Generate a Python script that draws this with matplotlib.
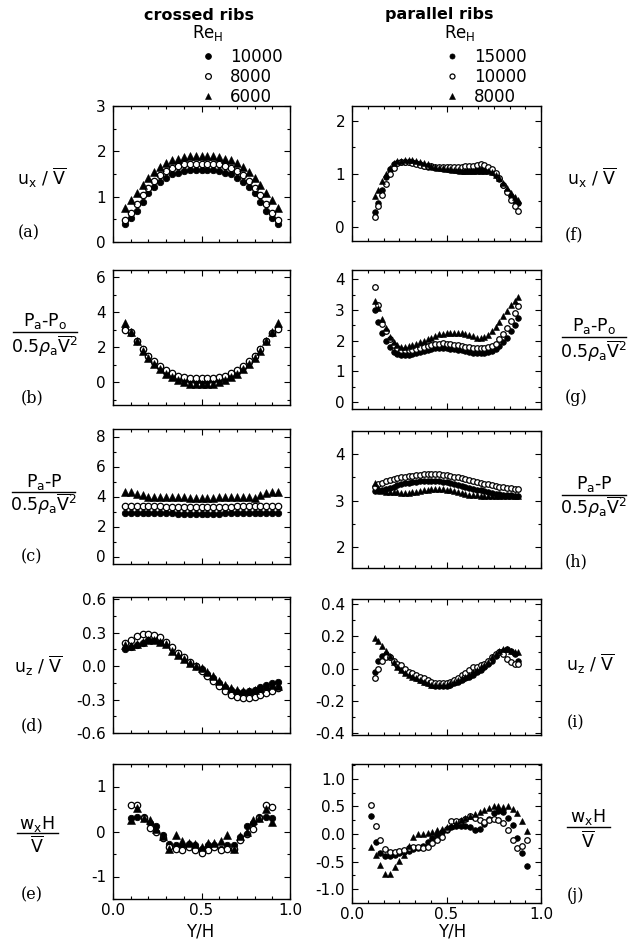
import numpy as np
import matplotlib
matplotlib.use('Agg')
import matplotlib.pyplot as plt
from matplotlib.ticker import MultipleLocator, FixedLocator, FormatStrFormatter

plt.rcParams['font.family'] = ['DejaVu Sans']
plt.rcParams['mathtext.fontset'] = 'dejavusans'
plt.rcParams['axes.unicode_minus'] = False

W, H = 628, 943

# ---------------- crossed ribs (left column) ----------------
re_cross = ['10000', '8000', '6000']
x_cross = [0.067, 0.1, 0.133, 0.167, 0.2, 0.233, 0.267, 0.3, 0.333, 0.367, 0.4, 0.433, 0.467, 0.5,
           0.533, 0.567, 0.6, 0.633, 0.667, 0.7, 0.733, 0.767, 0.8, 0.833, 0.867, 0.9, 0.933]
x_cross_e = [0.1, 0.136, 0.173, 0.209, 0.245, 0.282, 0.318, 0.355, 0.391, 0.427, 0.464, 0.5,
             0.536, 0.573, 0.609, 0.645, 0.682, 0.718, 0.755, 0.791, 0.827, 0.864, 0.9]

a_10000 = [0.40, 0.53, 0.69, 0.88, 1.07, 1.22, 1.33, 1.42, 1.49, 1.53, 1.56, 1.58, 1.58, 1.58,
           1.58, 1.58, 1.56, 1.53, 1.49, 1.42, 1.33, 1.22, 1.07, 0.88, 0.69, 0.53, 0.40]
a_8000 = [0.48, 0.63, 0.83, 1.03, 1.20, 1.35, 1.47, 1.57, 1.64, 1.68, 1.71, 1.72, 1.73, 1.73,
          1.73, 1.72, 1.71, 1.68, 1.64, 1.57, 1.47, 1.35, 1.20, 1.03, 0.83, 0.63, 0.48]
a_6000 = [0.75, 0.92, 1.07, 1.25, 1.42, 1.55, 1.66, 1.74, 1.80, 1.84, 1.87, 1.89, 1.90, 1.90,
          1.90, 1.89, 1.87, 1.84, 1.80, 1.74, 1.66, 1.55, 1.42, 1.25, 1.07, 0.92, 0.75]

b_10000 = [3.05, 2.80, 2.35, 1.90, 1.50, 1.15, 0.85, 0.60, 0.40, 0.25, 0.15, 0.10, 0.08, 0.08,
           0.08, 0.10, 0.15, 0.25, 0.40, 0.60, 0.85, 1.15, 1.50, 1.90, 2.35, 2.80, 3.10]
b_8000 = [3.00, 2.85, 2.35, 1.90, 1.50, 1.20, 0.90, 0.68, 0.50, 0.38, 0.30, 0.25, 0.22, 0.22,
          0.22, 0.25, 0.30, 0.38, 0.50, 0.68, 0.90, 1.20, 1.50, 1.90, 2.35, 2.80, 3.05]
b_6000 = [3.35, 2.85, 2.35, 1.80, 1.40, 1.05, 0.75, 0.48, 0.28, 0.10, 0.00, -0.08, -0.10, -0.10,
          -0.10, -0.08, 0.00, 0.10, 0.28, 0.48, 0.75, 1.05, 1.40, 1.80, 2.35, 2.85, 3.35]

c_10000 = [2.92, 2.90, 2.90, 2.88, 2.88, 2.88, 2.87, 2.87, 2.87, 2.86, 2.86, 2.86, 2.86, 2.86,
           2.86, 2.86, 2.86, 2.87, 2.87, 2.87, 2.88, 2.88, 2.88, 2.90, 2.90, 2.90, 2.92]
c_8000 = [3.36, 3.35, 3.35, 3.34, 3.34, 3.34, 3.34, 3.33, 3.33, 3.33, 3.33, 3.33, 3.33, 3.33,
          3.33, 3.33, 3.33, 3.33, 3.33, 3.34, 3.34, 3.34, 3.34, 3.35, 3.35, 3.35, 3.36]
c_6000 = [4.30, 4.30, 4.20, 4.08, 3.97, 3.97, 3.98, 3.96, 3.95, 3.94, 3.94, 3.93, 3.93, 3.93,
          3.93, 3.93, 3.94, 3.96, 3.98, 4.00, 3.97, 3.94, 3.92, 4.08, 4.22, 4.30, 4.30]

d_10000 = [0.15, 0.17, 0.19, 0.21, 0.23, 0.23, 0.22, 0.20, 0.16, 0.11, 0.07, 0.03, 0.00, -0.03,
           -0.07, -0.11, -0.15, -0.19, -0.21, -0.23, -0.23, -0.22, -0.21, -0.19, -0.17, -0.15, -0.14]
d_8000 = [0.21, 0.23, 0.27, 0.29, 0.29, 0.28, 0.26, 0.22, 0.17, 0.12, 0.08, 0.04, 0.00, -0.04,
          -0.09, -0.13, -0.18, -0.22, -0.26, -0.28, -0.29, -0.29, -0.28, -0.26, -0.24, -0.22, -0.20]
d_6000 = [0.19, 0.18, 0.20, 0.22, 0.23, 0.23, 0.22, 0.20, 0.14, 0.10, 0.06, 0.03, 0.00, -0.02,
          -0.05, -0.09, -0.13, -0.17, -0.20, -0.21, -0.22, -0.22, -0.21, -0.20, -0.18, -0.17, -0.18]

e_10000 = [0.31, 0.33, 0.33, 0.20, 0.13, -0.08, -0.28, -0.30, -0.32, -0.28, -0.30, -0.38,
           -0.30, -0.30, -0.38, -0.30, -0.30, -0.12, 0.12, 0.20, 0.32, 0.32, 0.30]
e_8000 = [0.58, 0.60, 0.30, 0.07, 0.00, -0.15, -0.35, -0.38, -0.40, -0.35, -0.40, -0.48,
          -0.40, -0.35, -0.40, -0.38, -0.38, -0.18, -0.05, 0.05, 0.30, 0.60, 0.55]
e_6000 = [0.25, 0.53, 0.30, 0.25, 0.05, -0.10, -0.38, -0.07, -0.20, -0.25, -0.27, -0.35,
          -0.25, -0.25, -0.20, -0.07, -0.38, -0.10, 0.00, 0.25, 0.30, 0.50, 0.22]

# ---------------- parallel ribs (right column) ----------------
re_par = ['15000', '10000', '8000']
x_par = [0.12, 0.14, 0.16, 0.18, 0.20, 0.22, 0.24, 0.26, 0.28, 0.30, 0.32, 0.34, 0.36, 0.38,
         0.40, 0.42, 0.44, 0.46, 0.48, 0.50, 0.52, 0.54, 0.56, 0.58, 0.60, 0.62, 0.64, 0.66,
         0.68, 0.70, 0.72, 0.74, 0.76, 0.78, 0.80, 0.82, 0.84, 0.86, 0.88]
x_par_j = [0.10, 0.125, 0.15, 0.175, 0.20, 0.225, 0.25, 0.275, 0.30, 0.325, 0.35, 0.375,
           0.40, 0.425, 0.45, 0.475, 0.50, 0.525, 0.55, 0.575, 0.60, 0.625, 0.65, 0.675,
           0.70, 0.725, 0.75, 0.775, 0.80, 0.825, 0.85, 0.875, 0.90, 0.925]

f_15000 = [0.28, 0.45, 0.70, 0.95, 1.10, 1.18, 1.20, 1.22, 1.23, 1.23, 1.22, 1.20, 1.18, 1.16,
           1.14, 1.13, 1.12, 1.11, 1.10, 1.09, 1.08, 1.07, 1.06, 1.06, 1.06, 1.06, 1.06, 1.07,
           1.08, 1.08, 1.07, 1.04, 0.98, 0.90, 0.80, 0.68, 0.58, 0.50, 0.45]
f_10000 = [0.20, 0.40, 0.60, 0.82, 1.00, 1.12, 1.20, 1.22, 1.22, 1.22, 1.20, 1.18, 1.17, 1.16,
           1.15, 1.15, 1.14, 1.14, 1.14, 1.14, 1.14, 1.14, 1.14, 1.14, 1.15, 1.15, 1.16, 1.17,
           1.18, 1.17, 1.14, 1.10, 1.02, 0.92, 0.80, 0.66, 0.52, 0.40, 0.30]
f_8000 = [0.58, 0.70, 0.86, 1.00, 1.12, 1.20, 1.24, 1.25, 1.26, 1.27, 1.27, 1.25, 1.22, 1.20,
          1.18, 1.16, 1.14, 1.12, 1.11, 1.10, 1.09, 1.08, 1.07, 1.06, 1.05, 1.05, 1.05, 1.05,
          1.06, 1.06, 1.05, 1.03, 0.98, 0.92, 0.84, 0.74, 0.65, 0.57, 0.52]

g_15000 = [3.00, 2.60, 2.25, 2.00, 1.78, 1.62, 1.55, 1.52, 1.52, 1.54, 1.56, 1.58, 1.62, 1.66,
           1.70, 1.73, 1.75, 1.76, 1.76, 1.75, 1.74, 1.72, 1.70, 1.68, 1.65, 1.62, 1.60, 1.58,
           1.58, 1.60, 1.62, 1.66, 1.72, 1.82, 1.95, 2.10, 2.30, 2.50, 2.72]
g_10000 = [3.75, 3.15, 2.55, 2.30, 2.05, 1.85, 1.75, 1.70, 1.68, 1.68, 1.70, 1.72, 1.75, 1.78,
           1.82, 1.86, 1.88, 1.90, 1.91, 1.90, 1.88, 1.86, 1.84, 1.82, 1.80, 1.78, 1.76, 1.75,
           1.75, 1.76, 1.78, 1.82, 1.90, 2.05, 2.20, 2.40, 2.65, 2.90, 3.12]
g_8000 = [3.30, 3.05, 2.70, 2.40, 2.12, 1.95, 1.85, 1.80, 1.80, 1.82, 1.86, 1.90, 1.95, 2.00,
          2.05, 2.10, 2.15, 2.20, 2.22, 2.24, 2.25, 2.26, 2.26, 2.25, 2.22, 2.18, 2.14, 2.10,
          2.10, 2.12, 2.18, 2.30, 2.45, 2.62, 2.80, 2.98, 3.15, 3.30, 3.42]

h_15000 = [3.20, 3.20, 3.22, 3.25, 3.28, 3.30, 3.33, 3.35, 3.37, 3.39, 3.40, 3.41, 3.42, 3.43,
           3.43, 3.43, 3.42, 3.42, 3.41, 3.40, 3.38, 3.36, 3.34, 3.32, 3.30, 3.28, 3.26, 3.24,
           3.22, 3.20, 3.18, 3.16, 3.15, 3.14, 3.13, 3.12, 3.12, 3.11, 3.10]
h_10000 = [3.30, 3.35, 3.38, 3.42, 3.45, 3.47, 3.49, 3.51, 3.52, 3.53, 3.54, 3.55, 3.56, 3.57,
           3.57, 3.57, 3.57, 3.57, 3.56, 3.55, 3.54, 3.52, 3.50, 3.48, 3.46, 3.44, 3.42, 3.40,
           3.38, 3.36, 3.35, 3.33, 3.31, 3.30, 3.29, 3.28, 3.27, 3.26, 3.25]
h_8000 = [3.38, 3.28, 3.20, 3.18, 3.18, 3.18, 3.18, 3.17, 3.17, 3.17, 3.18, 3.19, 3.20, 3.22,
          3.24, 3.25, 3.26, 3.26, 3.25, 3.24, 3.22, 3.20, 3.18, 3.16, 3.14, 3.13, 3.12, 3.12,
          3.11, 3.10, 3.10, 3.10, 3.10, 3.10, 3.10, 3.10, 3.10, 3.10, 3.10]

i_15000 = [-0.02, 0.05, 0.08, 0.09, 0.07, 0.04, 0.02, 0.00, -0.02, -0.03, -0.04, -0.06, -0.07,
           -0.08, -0.09, -0.10, -0.11, -0.11, -0.11, -0.11, -0.10, -0.09, -0.08, -0.07, -0.06,
           -0.05, -0.04, -0.02, -0.01, 0.01, 0.03, 0.05, 0.08, 0.10, 0.11, 0.12, 0.11, 0.09, 0.05]
i_10000 = [-0.06, 0.00, 0.05, 0.07, 0.07, 0.05, 0.03, 0.02, 0.00, -0.02, -0.03, -0.04, -0.05,
           -0.06, -0.07, -0.08, -0.09, -0.09, -0.09, -0.09, -0.08, -0.07, -0.06, -0.04, -0.03,
           -0.01, 0.01, 0.01, 0.02, 0.03, 0.05, 0.07, 0.09, 0.10, 0.09, 0.06, 0.04, 0.03, 0.03]
i_8000 = [0.19, 0.17, 0.14, 0.11, 0.08, 0.04, 0.01, -0.01, -0.03, -0.04, -0.05, -0.06, -0.07,
          -0.08, -0.09, -0.10, -0.10, -0.10, -0.10, -0.10, -0.09, -0.08, -0.07, -0.06, -0.05,
          -0.04, -0.02, -0.01, 0.01, 0.02, 0.04, 0.07, 0.09, 0.11, 0.12, 0.12, 0.11, 0.10, 0.10]

j_15000 = [0.33, -0.14, -0.35, -0.40, -0.40, -0.38, -0.35, -0.32, -0.30, -0.28, -0.26, -0.22,
           -0.15, -0.08, -0.02, 0.04, 0.08, 0.12, 0.14, 0.15, 0.15, 0.12, 0.08, 0.10, 0.18,
           0.28, 0.38, 0.42, 0.40, 0.30, 0.16, -0.08, -0.35, -0.58]
j_10000 = [0.53, 0.15, -0.10, -0.27, -0.32, -0.33, -0.31, -0.29, -0.25, -0.23, -0.24, -0.25,
           -0.23, -0.17, -0.11, -0.05, 0.10, 0.24, 0.23, 0.24, 0.28, 0.32, 0.30, 0.25, 0.22,
           0.26, 0.28, 0.25, 0.20, 0.08, -0.10, -0.25, -0.22, -0.10]
j_8000 = [-0.24, -0.38, -0.57, -0.73, -0.72, -0.60, -0.48, -0.38, -0.22, -0.05, 0.00, 0.00,
          0.01, 0.04, 0.07, 0.10, 0.12, 0.15, 0.20, 0.25, 0.30, 0.33, 0.36, 0.40, 0.44, 0.48,
          0.50, 0.50, 0.49, 0.50, 0.45, 0.38, 0.23, 0.06]

# panel boxes in pixels
LEFT = (113, 290)
RIGHT = (352, 541)

panels_left = [
    ('a', x_cross, (a_10000, a_8000, a_6000), (106, 242), (0, 3.0), 1, 0.5, '%d'),
    ('b', x_cross, (b_10000, b_8000, b_6000), (270, 405), (-1.3, 6.4), 2, 1, '%d'),
    ('c', x_cross, (c_10000, c_8000, c_6000), (429, 564), (-0.5, 8.5), 2, 1, '%d'),
    ('d', x_cross, (d_10000, d_8000, d_6000), (597, 733), (-0.6, 0.62), 0.3, 0.15, '%.1f'),
    ('e', x_cross_e, (e_10000, e_8000, e_6000), (764, 899), (-1.5, 1.5), 1, 0.5, '%d'),
]
panels_right = [
    ('f', x_par, (f_15000, f_10000, f_8000), (106, 241), (-0.26, 2.28), 1, 0.5, '%d'),
    ('g', x_par, (g_15000, g_10000, g_8000), (270, 409), (-0.23, 4.3), 1, 0.5, '%d'),
    ('h', x_par, (h_15000, h_10000, h_8000), (431, 568), (1.55, 4.5), 1, 0.5, '%d'),
    ('i', x_par, (i_15000, i_10000, i_8000), (599, 735), (-0.41, 0.43), 0.2, 0.1, '%.1f'),
    ('j', x_par_j, (j_15000, j_10000, j_8000), (764, 903), (-1.25, 1.27), 0.5, 0.25, '%.1f'),
]

fig = plt.figure(figsize=(W / 100, H / 100), dpi=100)


def make_axes(xs, ys):
    return fig.add_axes([xs[0] / W, 1 - ys[1] / H, (xs[1] - xs[0]) / W, (ys[1] - ys[0]) / H])


def draw_panel(ax, x, series, ms, xminor, bottom):
    s1, s2, s3 = series
    h1, = ax.plot(x, s1, 'o', ms=ms, mfc='black', mec='black', mew=0.6)
    h2, = ax.plot(x, s2, 'o', ms=ms, mfc='white', mec='black', mew=0.9)
    h3, = ax.plot(x, s3, '^', ms=ms + 0.6, mfc='black', mec='black', mew=0.4)
    ax.set_xlim(0, 1)
    ax.xaxis.set_major_locator(MultipleLocator(0.5))
    ax.xaxis.set_minor_locator(xminor)
    ax.xaxis.set_major_formatter(FormatStrFormatter('%.1f'))
    ax.tick_params(which='both', direction='in', top=True, right=True, width=0.8,
                   labelsize=11, pad=5)
    ax.tick_params(axis='x', pad=3)
    ax.tick_params(which='major', length=4)
    ax.tick_params(which='minor', length=2.2)
    if not bottom:
        ax.tick_params(axis='x', labelbottom=False)
    for sp in ax.spines.values():
        sp.set_linewidth(1.0)
    return [h1, h2, h3]


handles = {}
for col, panels, xs, ms, xminor in [
        ('left', panels_left, LEFT, 4.6, MultipleLocator(0.1)),
        ('right', panels_right, RIGHT, 4.0, FixedLocator(np.arange(1, 12) / 12))]:
    for k, (name, x, series, ys, ylim, major, minor, fmt) in enumerate(panels):
        ax = make_axes(xs, ys)
        hs = draw_panel(ax, x, series, ms, xminor, k == len(panels) - 1)
        ax.set_ylim(*ylim)
        ax.yaxis.set_major_locator(MultipleLocator(major))
        ax.yaxis.set_minor_locator(MultipleLocator(minor))
        ax.yaxis.set_major_formatter(FormatStrFormatter(fmt))
        if k == 0:
            handles[col] = hs

# overlay in pixel coordinates for labels
ov = fig.add_axes([0, 0, 1, 1])
ov.set_xlim(0, W)
ov.set_ylim(H, 0)
ov.axis('off')

ov.text(199, 15, 'crossed ribs', ha='center', va='center', fontsize=11.5, fontweight='bold')
ov.text(439, 15, 'parallel ribs', ha='center', va='center', fontsize=11.5, fontweight='bold')
ov.text(208, 33, r'Re$_\mathrm{H}$', ha='center', va='center', fontsize=12)
ov.text(460, 33, r'Re$_\mathrm{H}$', ha='center', va='center', fontsize=12)

for col, labels, x0 in [('left', re_cross, 200), ('right', re_par, 444)]:
    fig.legend(handles[col], labels, loc='upper left',
               bbox_to_anchor=(x0 / W, 1 - 48 / H), frameon=False, fontsize=12,
               handlelength=1.0, handletextpad=0.8, labelspacing=0.12,
               borderpad=0, borderaxespad=0, markerscale=0.9)

lab = dict(ha='center', va='center', fontsize=12.5)
ux = r'$\mathrm{u_x}$ / $\overline{\mathrm{V}}$'
uz = r'$\mathrm{u_z}$ / $\overline{\mathrm{V}}$'
ov.text(42, 178, ux, **lab)
ov.text(592, 178, ux, **lab)
ov.text(38, 666, uz, **lab)
ov.text(590, 664, uz, **lab)


def frac(cx, yn, yl, yd, x0, x1, num, den):
    ov.text(cx, yn, num, **lab)
    ov.plot([x0, x1], [yl, yl], color='black', lw=1.0)
    ov.text(cx, yd, den, **lab)


pa_po = r'$\mathrm{P_a}$-$\mathrm{P_o}$'
pa_p = r'$\mathrm{P_a}$-P'
den = r'0.5$\rho_\mathrm{a}\overline{\mathrm{V}}^\mathrm{2}$'
wxh = r'$\mathrm{w_x H}$'
vbar = r'$\overline{\mathrm{V}}$'
frac(45, 321, 332, 346, 13, 77, pa_po, den)
frac(44, 482, 492, 504, 12, 75, pa_p, den)
frac(37, 824, 833, 846, 17, 58, wxh, vbar)
frac(594, 326, 337, 351, 562, 626, pa_po, den)
frac(594, 484, 495, 507, 562, 626, pa_p, den)
frac(588, 817, 827, 841, 567, 610, wxh, vbar)

ser = dict(ha='center', va='center', fontsize=11.5, family='DejaVu Serif')
for t, x, y in [('(a)', 29, 233), ('(b)', 32, 398), ('(c)', 32, 557), ('(d)', 32, 726),
                ('(e)', 32, 895), ('(f)', 574, 235), ('(g)', 576, 398), ('(h)', 576, 562),
                ('(i)', 576, 723), ('(j)', 576, 895)]:
    ov.text(x, y, t, **ser)

ov.text(200, 932, 'Y/H', ha='center', va='center', fontsize=12)
ov.text(452, 932, 'Y/H', ha='center', va='center', fontsize=12)

fig.savefig('out.png', dpi=100)
